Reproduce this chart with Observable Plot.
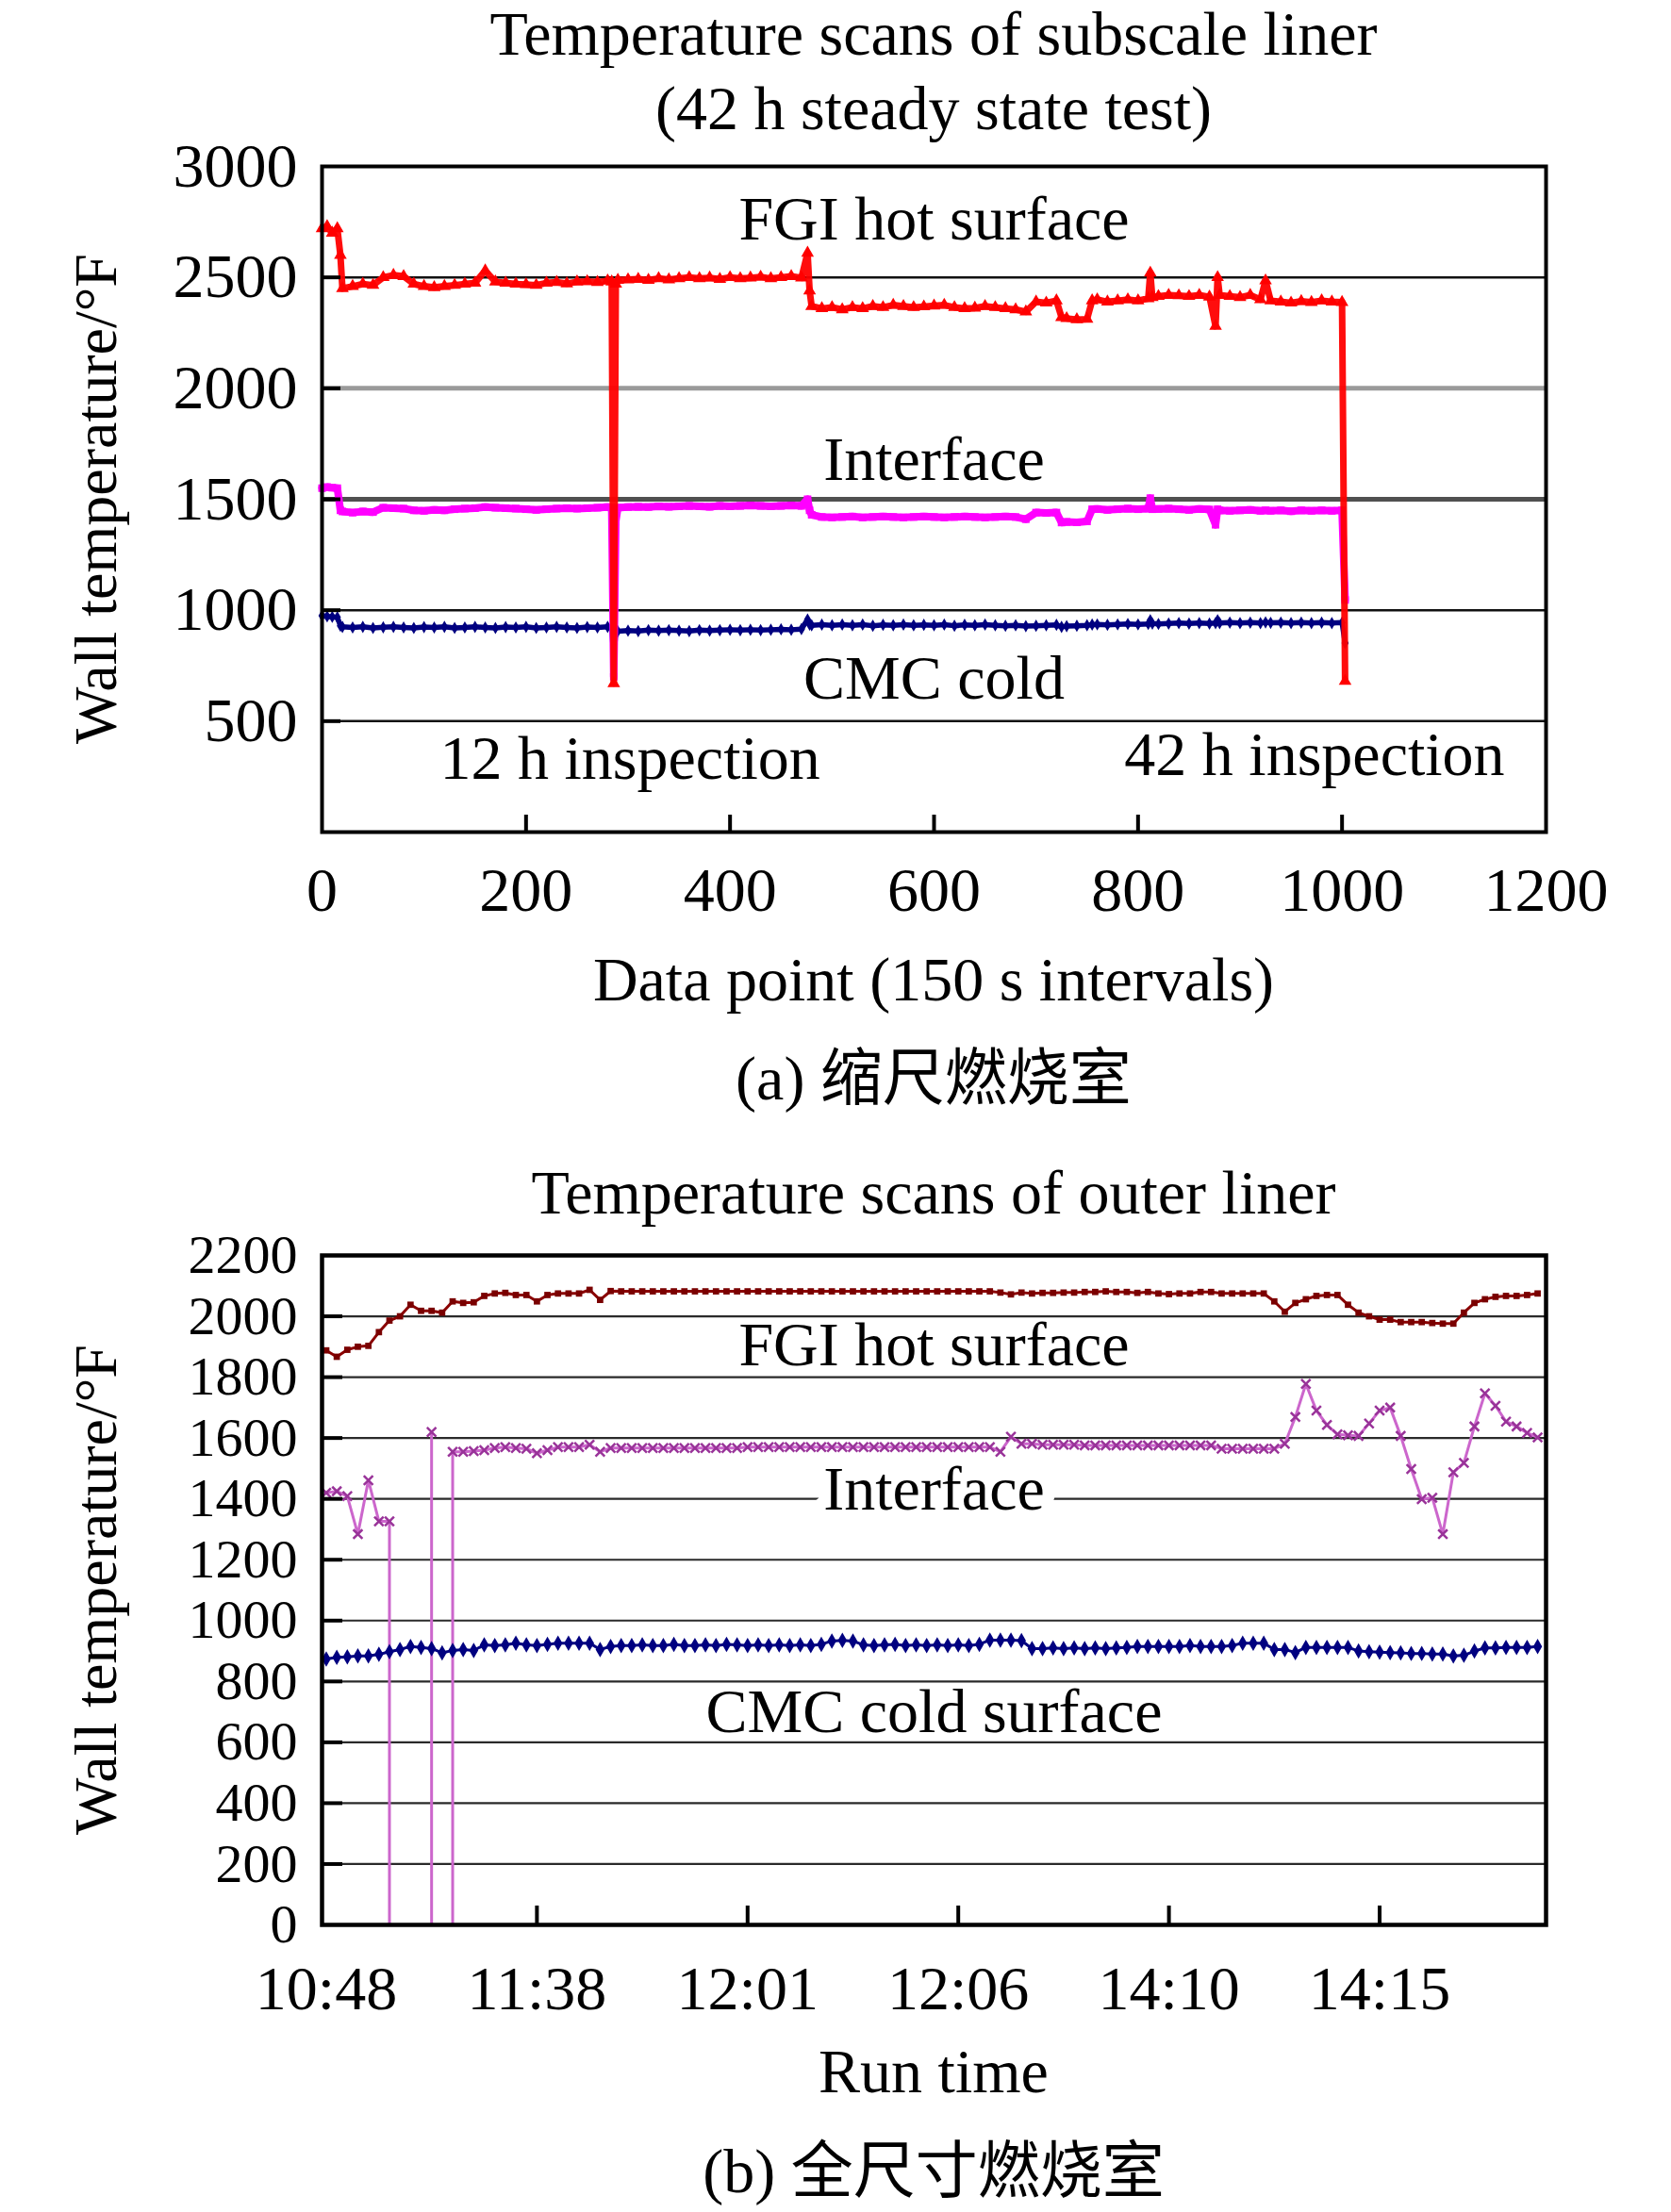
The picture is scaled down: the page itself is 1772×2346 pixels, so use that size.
<!DOCTYPE html>
<html><head><meta charset="utf-8">
<script src="https://cdn.jsdelivr.net/npm/d3@7"></script>
<script src="https://cdn.jsdelivr.net/npm/@observablehq/plot@0.6"></script>
<style>
body{margin:0;background:#fff;}
#page{position:relative;width:1772px;height:2346px;background:#fff;font-family:"Liberation Serif","Times New Roman","Noto Sans CJK SC",serif;color:#000;overflow:hidden;}
.t{position:absolute;white-space:nowrap;font-size:66px;line-height:80px;height:80px;transform:translateX(-50%);}
.yl{position:absolute;white-space:nowrap;font-size:64px;line-height:80px;height:80px;transform:translate(-50%,-50%) rotate(-90deg);}
#page svg{position:absolute;left:0;}
</style></head><body><div id="page"></div>
<script>
// ---------- Chart (a) data ----------
const xTicksA = [0, 200, 400, 600, 800, 1000, 1200];
const yTicksA = [500, 1000, 1500, 2000, 2500, 3000];
const gridA = [500, 1000, 1500, 2000, 2500];
const dataPointA = [
  0,5,10,15,18,20,30,40,50,60,
  70,80,90,100,110,120,130,140,150,160,
  170,180,190,200,210,220,230,240,250,260,
  270,280,284,286,288,290,300,310,320,330,
  340,350,360,370,380,390,400,410,420,430,
  440,450,460,470,476,478,480,490,500,510,
  520,530,540,550,560,570,580,590,600,610,
  620,630,640,650,660,670,680,690,700,710,
  720,725,730,740,750,755,760,770,780,790,
  800,810,812,814,820,830,840,850,860,870,
  876,878,880,890,900,910,920,925,930,940,
  950,960,970,980,990,1000,1003];
const hotA = [
  2720,2730,2700,2720,2600,2450,2460,2470,2465,2500,
  2510,2505,2470,2460,2455,2460,2465,2470,2475,2530,
  2480,2475,2470,2468,2465,2475,2478,2472,2480,2482,
  2478,2485,2480,670,2470,2488,2490,2492,2488,2495,
  2490,2495,2500,2495,2498,2492,2500,2495,2498,2502,
  2495,2500,2505,2498,2610,2440,2370,2360,2365,2355,
  2365,2360,2370,2365,2375,2370,2365,2368,2372,2375,
  2365,2360,2362,2370,2365,2360,2355,2345,2390,2385,
  2395,2320,2315,2310,2312,2395,2400,2390,2395,2400,
  2395,2405,2520,2410,2415,2420,2418,2415,2420,2412,
  2280,2500,2420,2415,2410,2420,2400,2485,2395,2390,
  2385,2392,2388,2395,2390,2388,680];
const interfaceA = [
  1550,1555,1552,1550,1450,1445,1440,1445,1442,1462,
  1460,1458,1450,1448,1452,1450,1455,1458,1460,1465,
  1462,1460,1458,1455,1452,1455,1458,1460,1458,1460,
  1462,1465,1462,700,1400,1462,1465,1466,1465,1468,
  1466,1468,1470,1468,1466,1470,1468,1470,1472,1470,
  1468,1470,1472,1470,1500,1450,1430,1420,1418,1420,
  1422,1418,1420,1422,1420,1418,1420,1422,1420,1418,
  1420,1422,1420,1418,1420,1422,1420,1410,1440,1438,
  1440,1395,1398,1396,1400,1455,1456,1452,1455,1458,
  1455,1458,1505,1455,1456,1458,1455,1452,1456,1454,
  1385,1455,1450,1448,1450,1452,1448,1450,1448,1450,
  1446,1450,1448,1450,1448,1450,1046];
const coldA = [
  975,972,970,968,930,925,922,925,920,923,
  925,922,920,924,922,925,920,922,925,922,
  920,924,922,925,920,922,925,922,920,924,
  922,925,922,780,900,905,908,906,910,908,
  910,908,906,910,908,910,912,910,912,910,
  912,914,912,915,958,935,932,935,932,935,
  932,935,930,934,932,935,932,934,932,935,
  930,934,932,935,932,930,932,928,930,932,
  934,925,928,930,932,935,936,934,936,938,
  936,938,955,940,938,940,942,940,942,940,
  942,955,942,944,942,944,942,945,943,944,
  942,944,942,944,942,944,852];
const labelsA = [
  {text: "FGI hot surface", x: 600, y: 2762},
  {text: "Interface", x: 600, y: 1676},
  {text: "CMC cold", x: 600, y: 693},
  {text: "12 h inspection", x: 302, y: 329},
  {text: "42 h inspection", x: 973, y: 348}
];

// ---------- Chart (b) data ----------
const yTicksB = [0,200,400,600,800,1000,1200,1400,1600,1800,2000,2200];
const runTimeTicks = [0, 20, 40, 60, 80, 100];
const runTimeLabels = ["10:48", "11:38", "12:01", "12:06", "14:10", "14:15"];
const hotB = [
  1888,1867,1890,1900,1903,1948,1986,2000,2038,2018,
  2018,2012,2049,2044,2046,2067,2075,2077,2070,2070,
  2049,2070,2075,2075,2075,2087,2054,2083,2082,2082,
  2082,2082,2082,2082,2082,2082,2082,2082,2082,2082,
  2082,2082,2082,2082,2082,2082,2082,2082,2082,2082,
  2082,2082,2082,2082,2082,2082,2082,2082,2082,2082,
  2082,2082,2082,2082,2078,2072,2078,2075,2077,2077,
  2078,2078,2080,2080,2082,2080,2080,2077,2080,2075,
  2073,2075,2075,2080,2080,2075,2075,2075,2075,2075,
  2049,2015,2044,2056,2067,2070,2070,2038,2012,2000,
  1989,1989,1981,1981,1981,1978,1976,1976,2012,2044,
  2056,2064,2067,2067,2070,2075];
const coldB = [
  874,879,881,884,884,889,898,905,915,912,
  908,894,902,905,902,920,918,920,926,920,
  918,922,926,926,926,926,905,915,918,918,
  920,918,918,922,918,918,920,918,922,920,
  918,920,918,920,918,920,918,922,933,935,
  933,920,918,920,922,918,920,918,920,918,
  920,918,922,936,936,936,934,908,908,910,
  908,910,908,910,908,910,912,915,915,915,
  915,915,918,915,915,915,918,926,926,926,
  905,905,895,912,912,912,912,912,900,898,
  896,895,894,892,892,890,890,884,886,900,
  910,910,912,912,912,915];
const interfaceBX = [0,1,2,3,4,5,6,6,10,10,10,12,12].concat(d3.range(13, 116));
const interfaceB = [
  1420,1425,1409,1284,1461,1326,1326,0,0,1620,0,0,1555,
  1555,1557,1560,1567,1570,1567,1565,
  1550,1560,1570,1570,1570,1578,1555,1567,1567,1567,
  1567,1567,1567,1567,1567,1567,1567,1567,1567,1567,
  1570,1570,1570,1570,1570,1570,1570,1570,1570,1570,
  1570,1570,1570,1570,1570,1570,1570,1570,1570,1570,
  1570,1570,1570,1570,1555,1604,1581,1581,1578,1578,
  1578,1578,1576,1576,1576,1576,1576,1576,1576,1576,
  1576,1576,1576,1576,1576,1565,1565,1565,1565,1565,
  1565,1581,1669,1778,1690,1643,1612,1609,1607,1648,
  1690,1700,1607,1498,1399,1404,1284,1487,1518,1638,
  1747,1706,1654,1638,1617,1602];
const labelsB = [
  {text: "FGI hot surface", x: 57.7, y: 1903, halo: false},
  {text: "Interface", x: 57.7, y: 1429, halo: true},
  {text: "CMC cold surface", x: 57.7, y: 698, halo: false}
];

// ---------- helpers ----------
const FONT = "Liberation Serif, Times New Roman, serif";
const page = document.getElementById("page");
function addText(txt, cx, cy, cls = "t") {
  const d = document.createElement("div");
  d.className = cls;
  d.textContent = txt;
  d.style.left = cx + "px";
  d.style.top = (cls === "t" ? cy - 40 : cy) + "px";
  page.appendChild(d);
}
function rows(xs, ys) {
  const n = Math.min(xs.length, ys.length);
  return d3.range(n).map(i => ({x: xs[i], y: ys[i]}));
}

const W = 1772, FL = 341, FR = 1639, PW = FR - FL;

// ---------- Chart (a) ----------
{
  const mT = 26, PH = 706, mB = 100;
  const hot = rows(dataPointA, hotA), inter = rows(dataPointA, interfaceA), cold = rows(dataPointA, coldA);
  const svg = Plot.plot({
    width: W, height: mT + PH + mB,
    marginLeft: FL, marginRight: W - FR, marginTop: mT, marginBottom: mB,
    style: {fontFamily: FONT, fontSize: "66px", background: "white", color: "black", overflow: "visible"},
    x: {domain: [0, 1200]},
    y: {domain: [0, 3000]},
    marks: [
      Plot.ruleY(gridA.filter(d => d !== 2000 && d !== 1500), {y: d => d, stroke: "#111", strokeWidth: 2.5}),
      Plot.ruleY(gridA.filter(d => d === 2000), {y: d => d, stroke: "#9a9a9a", strokeWidth: 5}),
      Plot.ruleY(gridA.filter(d => d === 1500), {y: d => d, stroke: "#505050", strokeWidth: 5}),
      Plot.line(cold, {x: "x", y: "y", stroke: "#000080", strokeWidth: 5.5}),
      Plot.dot(cold, {x: "x", y: "y", symbol: "diamond", r: 4, fill: "#000080"}),
      Plot.line(inter, {x: "x", y: "y", stroke: "#ff00ff", strokeWidth: 8}),
      Plot.dot(inter, {x: "x", y: "y", symbol: "square", r: 4.5, fill: "#ff00ff"}),
      Plot.line(hot, {x: "x", y: "y", stroke: "#ff0000", strokeWidth: 7, strokeOpacity: 0.95}),
      Plot.dot(hot, {x: "x", y: "y", symbol: "triangle", r: 5, fill: "#ff0000"}),
      Plot.axisX({ticks: xTicksA, tickSize: 0, tickPadding: 37, label: null, tickFormat: d => String(d)}),
      Plot.axisY({ticks: yTicksA, tickSize: 0, tickPadding: 26, label: null, tickFormat: d => String(d)}),
      Plot.tickX(xTicksA.filter(d => d > 0 && d < 1200), {x: d => d, insetTop: PH - 18, stroke: "black", strokeWidth: 4}),
      Plot.tickY(yTicksA.filter(d => d < 3000), {y: d => d, insetRight: PW - 20, stroke: "black", strokeWidth: 4}),
      Plot.frame({stroke: "black", strokeWidth: 4}),
      Plot.text(labelsA, {x: "x", y: "y", text: "text", fontSize: 66, fill: "black"})
    ]
  });
  svg.style.top = "150px";
  page.appendChild(svg);
  addText("Temperature scans of subscale liner", 990, 36);
  addText("(42 h steady state test)", 990, 115);
  addText("Data point (150 s intervals)", 990, 1039);
  addText("(a) 缩尺燃烧室", 990, 1144);
  addText("Wall temperature/°F", 102, 529, "yl");
}

// ---------- Chart (b) ----------
{
  const mT = 21, PH = 710, mB = 100;
  const hot = rows(d3.range(hotB.length), hotB), cold = rows(d3.range(coldB.length), coldB), inter = rows(interfaceBX, interfaceB);
  const svg = Plot.plot({
    width: W, height: mT + PH + mB,
    marginLeft: FL, marginRight: W - FR, marginTop: mT, marginBottom: mB,
    style: {fontFamily: FONT, fontSize: "66px", background: "white", color: "black", overflow: "visible"},
    x: {domain: [-0.4, 115.8]},
    y: {domain: [0, 2200]},
    marks: [
      Plot.ruleY(yTicksB.filter(d => d > 0 && d < 2200), {y: d => d, stroke: "#2a2a2a", strokeWidth: 2.2}),
      Plot.line(hot, {x: "x", y: "y", stroke: "#8b0000", strokeWidth: 3}),
      Plot.dot(hot, {x: "x", y: "y", symbol: "square", r: 3.8, fill: "#7a0000"}),
      Plot.line(inter, {x: "x", y: "y", stroke: "#cc66cc", strokeWidth: 3}),
      Plot.dot(inter.filter(d => d.y > 0), {x: "x", y: "y", symbol: "times", r: 4.5, stroke: "#993399", strokeWidth: 2.5}),
      Plot.line(cold, {x: "x", y: "y", stroke: "#000080", strokeWidth: 3}),
      Plot.dot(cold, {x: "x", y: "y", symbol: "diamond", r: 5, fill: "#000080"}),
      Plot.axisX({ticks: runTimeTicks, tickSize: 0, tickPadding: 43, label: null,
        tickFormat: d => runTimeLabels[runTimeTicks.indexOf(d)]}),
      Plot.axisY({ticks: yTicksB, tickSize: 0, tickPadding: 26, label: null, fontSize: 58, tickFormat: d => String(d)}),
      Plot.tickX(runTimeTicks.filter(d => d > 0), {x: d => d, insetTop: PH - 20, stroke: "black", strokeWidth: 4}),
      Plot.tickY(yTicksB.filter(d => d > 0 && d < 2200), {y: d => d, insetRight: PW - 22, stroke: "black", strokeWidth: 4}),
      Plot.frame({stroke: "black", strokeWidth: 4.5}),
      Plot.text(labelsB.filter(d => d.halo), {x: "x", y: "y", text: "text", fontSize: 66, fill: "black", stroke: "white", strokeWidth: 26}),
      Plot.text(labelsB.filter(d => !d.halo), {x: "x", y: "y", text: "text", fontSize: 66, fill: "black"})
    ]
  });
  svg.style.top = "1310px";
  page.appendChild(svg);
  addText("Temperature scans of outer liner", 990, 1265);
  addText("Run time", 990, 2197);
  addText("(b) 全尺寸燃烧室", 990, 2303);
  addText("Wall temperature/°F", 102, 1686, "yl");
}
</script>
</body></html>
